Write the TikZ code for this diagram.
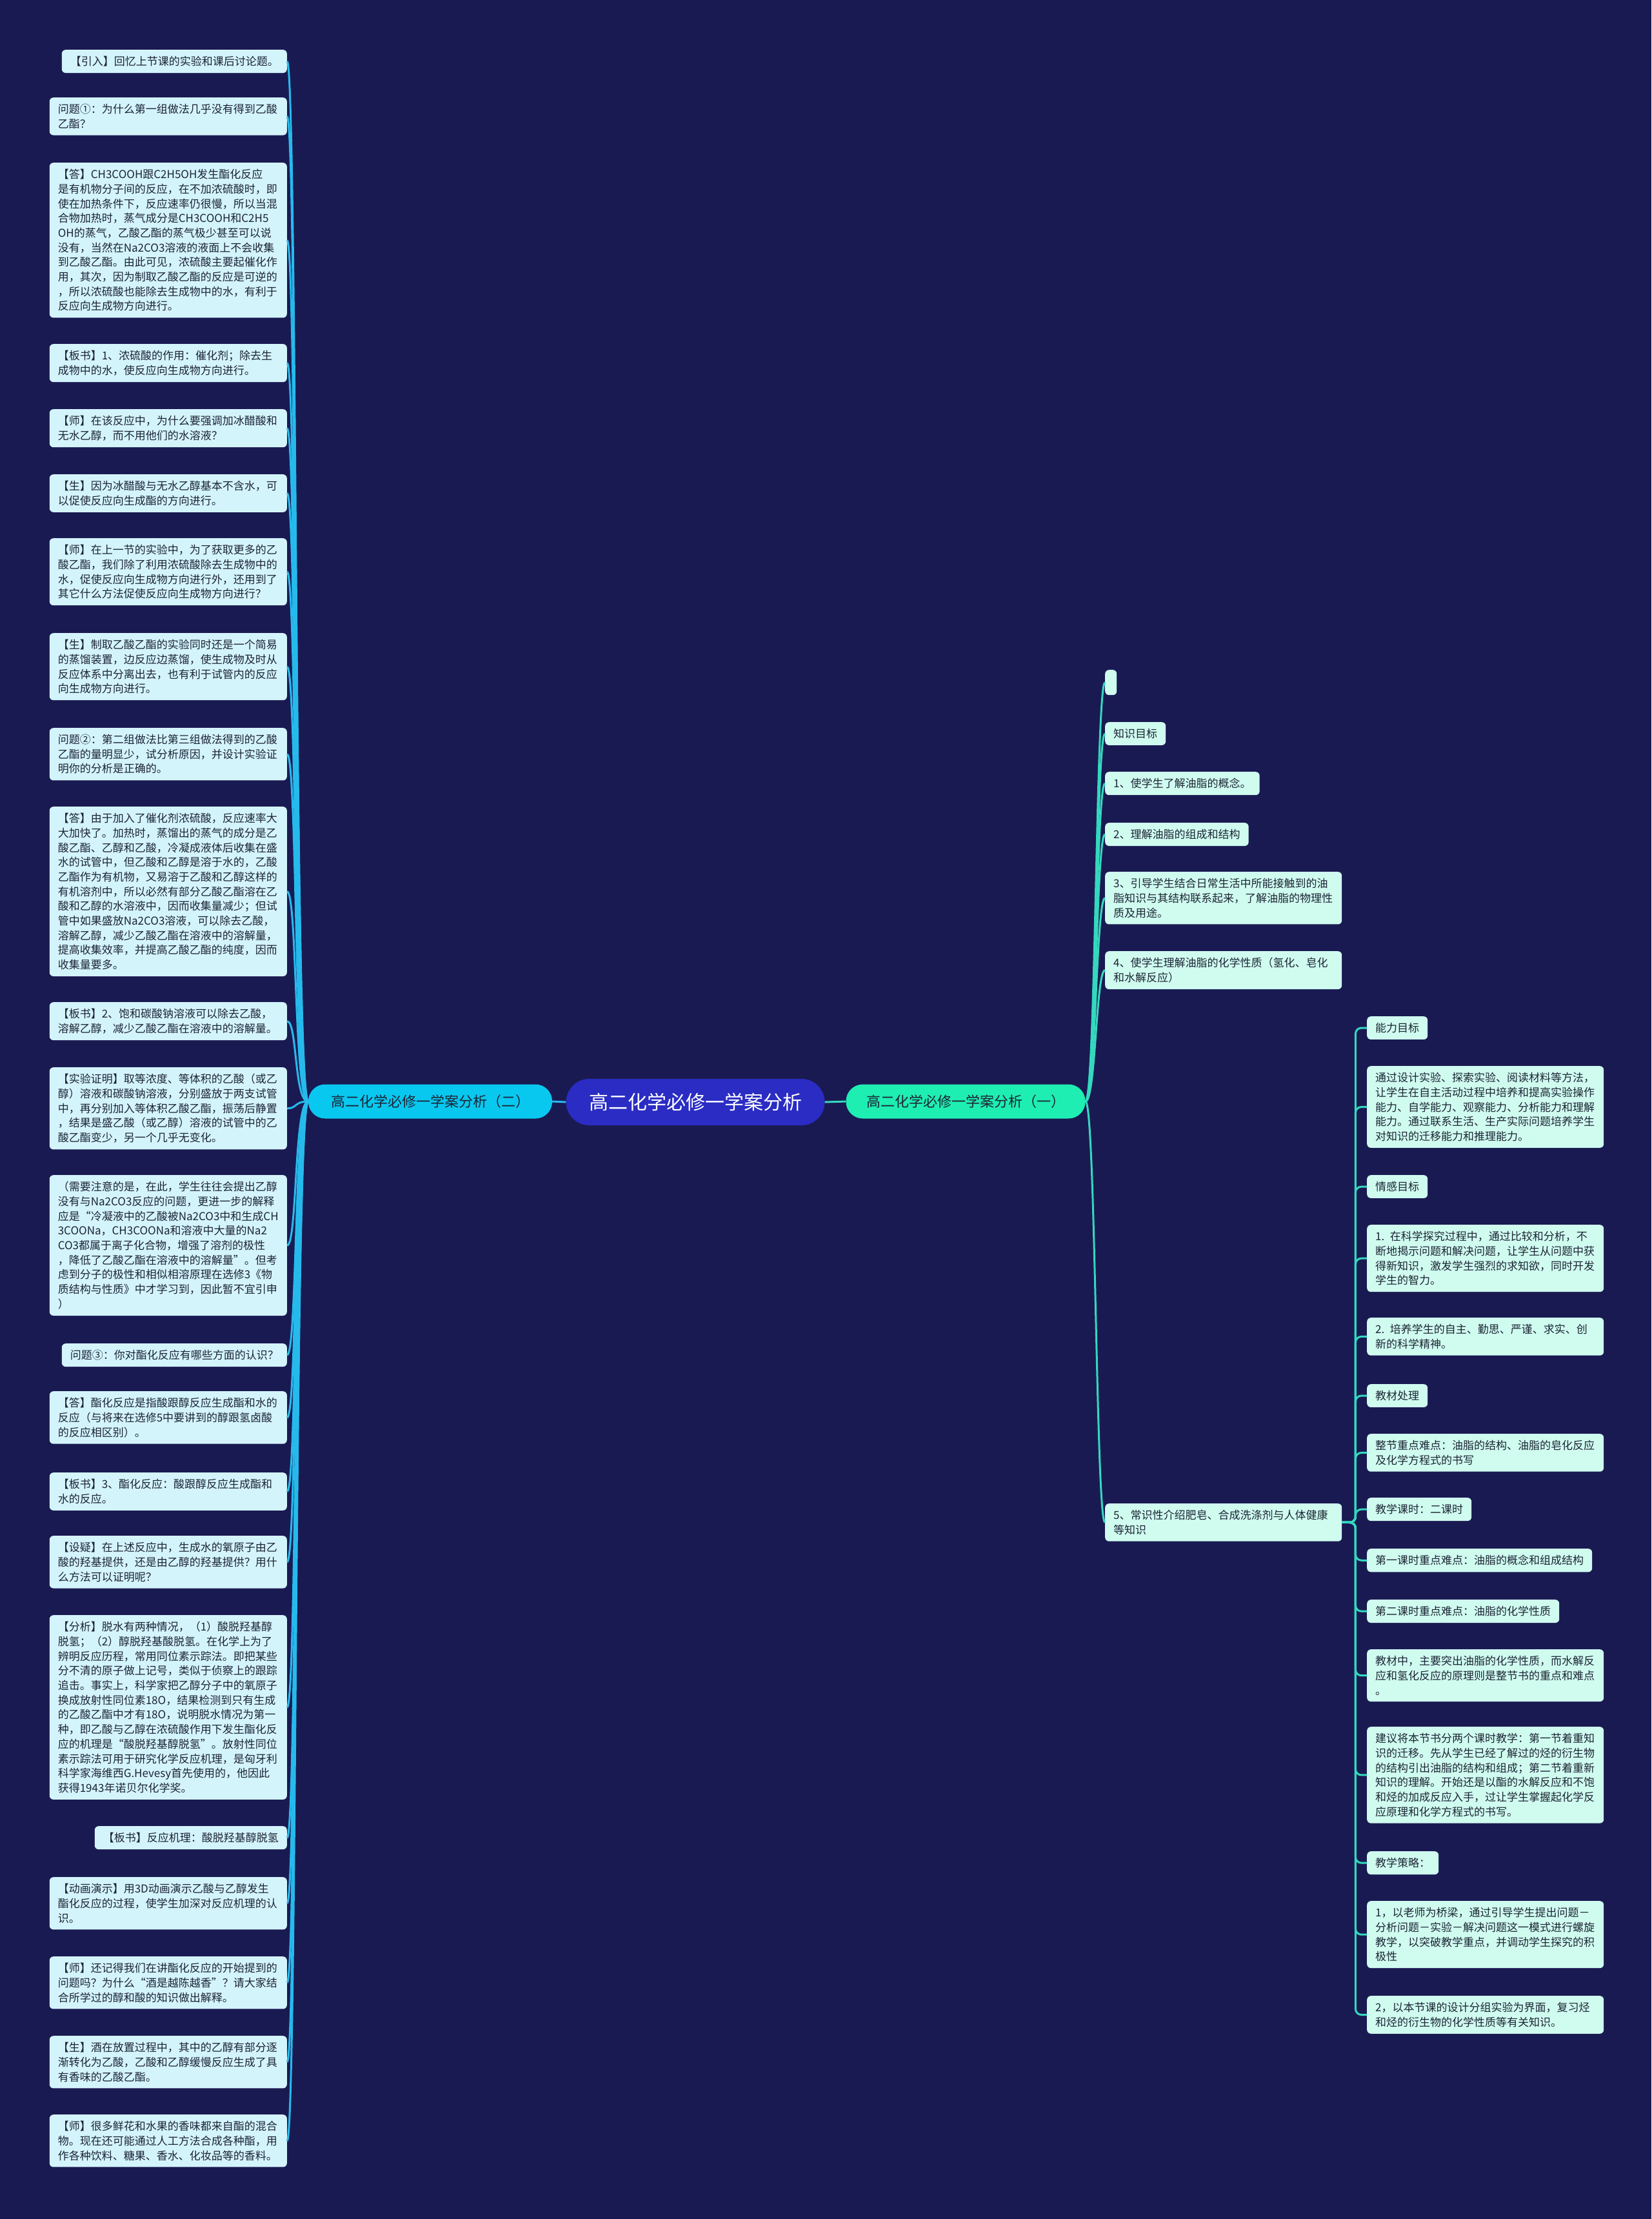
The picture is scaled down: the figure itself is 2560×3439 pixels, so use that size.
\documentclass[tikz,border=0pt]{standalone}
\usepackage{fontspec}
\setmainfont{Noto Sans CJK SC}
\usetikzlibrary{calc}
\definecolor{bg}{RGB}{26,26,82}
\definecolor{cnfill}{RGB}{42,44,196}
\definecolor{lbfill}{RGB}{8,200,240}
\definecolor{rbfill}{RGB}{30,238,178}
\definecolor{lleaf}{RGB}{212,244,252}
\definecolor{rleaf}{RGB}{208,252,240}
\definecolor{llinec}{RGB}{38,186,236}
\definecolor{rlinec}{RGB}{52,216,190}
\definecolor{txt}{RGB}{28,36,52}
\begin{document}
\begin{tikzpicture}[x=1pt,y=-1pt,
  leafbase/.style={text=txt, rounded corners=6pt, inner xsep=13pt, inner ysep=10pt,
    font=\fontsize{17}{22.7}\selectfont, align=left},
  lleafs/.style={leafbase, fill=lleaf, anchor=north east},
  lwide/.style={lleafs, text width=342pt},
  rleafs/.style={leafbase, fill=rleaf, anchor=north west},
  rwide/.style={rleafs, text width=341pt},
  lconn/.style={draw=llinec, line width=3pt},
  rconn/.style={draw=rlinec, line width=3pt},
  branch/.style={rounded corners=26pt, minimum height=53pt, text=txt,
    font=\fontsize{22}{26}\selectfont, inner sep=0pt}
]
\useasboundingbox (0,0) rectangle (2560,3439);
\fill[bg] (0,0) rectangle (2560,3439);

% centre and branches
\node[fill=cnfill, rounded corners=36pt, minimum width=401pt, minimum height=72pt,
  text=white, font=\fontsize{30}{34}\selectfont, inner sep=0pt] (cn) at (1078,1708) {高二化学必修一学案分析};
\node[branch, fill=lbfill, minimum width=378pt] (lb) at (667,1707) {高二化学必修一学案分析（二）};
\node[branch, fill=rbfill, minimum width=371pt] (rb) at (1497,1707) {高二化学必修一学案分析（一）};

% left leaves
\node[lleafs] (l1) at (445,77) {【引入】回忆上节课的实验和课后讨论题。};
\node[lwide] (l2) at (445,151) {问题①：为什么第一组做法几乎没有得到乙酸\\乙酯？};
\node[lwide] (l3) at (445,252) {【答】CH3COOH跟C2H5OH发生酯化反应\\是有机物分子间的反应，在不加浓硫酸时，即\\使在加热条件下，反应速率仍很慢，所以当混\\合物加热时，蒸气成分是CH3COOH和C2H5\\OH的蒸气，乙酸乙酯的蒸气极少甚至可以说\\没有，当然在Na2CO3溶液的液面上不会收集\\到乙酸乙酯。由此可见，浓硫酸主要起催化作\\用，其次，因为制取乙酸乙酯的反应是可逆的\\，所以浓硫酸也能除去生成物中的水，有利于\\反应向生成物方向进行。};
\node[lwide] (l4) at (445,533) {【板书】1、浓硫酸的作用：催化剂；除去生\\成物中的水，使反应向生成物方向进行。};
\node[lwide] (l5) at (445,634) {【师】在该反应中，为什么要强调加冰醋酸和\\无水乙醇，而不用他们的水溶液？};
\node[lwide] (l6) at (445,735) {【生】因为冰醋酸与无水乙醇基本不含水，可\\以促使反应向生成酯的方向进行。};
\node[lwide] (l7) at (445,834) {【师】在上一节的实验中，为了获取更多的乙\\酸乙酯，我们除了利用浓硫酸除去生成物中的\\水，促使反应向生成物方向进行外，还用到了\\其它什么方法促使反应向生成物方向进行？};
\node[lwide] (l8) at (445,981) {【生】制取乙酸乙酯的实验同时还是一个简易\\的蒸馏装置，边反应边蒸馏，使生成物及时从\\反应体系中分离出去，也有利于试管内的反应\\向生成物方向进行。};
\node[lwide] (l9) at (445,1128) {问题②：第二组做法比第三组做法得到的乙酸\\乙酯的量明显少，试分析原因，并设计实验证\\明你的分析是正确的。};
\node[lwide] (l10) at (445,1250) {【答】由于加入了催化剂浓硫酸，反应速率大\\大加快了。加热时，蒸馏出的蒸气的成分是乙\\酸乙酯、乙醇和乙酸，冷凝成液体后收集在盛\\水的试管中，但乙酸和乙醇是溶于水的，乙酸\\乙酯作为有机物，又易溶于乙酸和乙醇这样的\\有机溶剂中，所以必然有部分乙酸乙酯溶在乙\\酸和乙醇的水溶液中，因而收集量减少；但试\\管中如果盛放Na2CO3溶液，可以除去乙酸，\\溶解乙醇，减少乙酸乙酯在溶液中的溶解量，\\提高收集效率，并提高乙酸乙酯的纯度，因而\\收集量要多。};
\node[lwide] (l11) at (445,1553) {【板书】2、饱和碳酸钠溶液可以除去乙酸，\\溶解乙醇，减少乙酸乙酯在溶液中的溶解量。};
\node[lwide] (l12) at (445,1654) {【实验证明】取等浓度、等体积的乙酸（或乙\\醇）溶液和碳酸钠溶液，分别盛放于两支试管\\中，再分别加入等体积乙酸乙酯，振荡后静置\\，结果是盛乙酸（或乙醇）溶液的试管中的乙\\酸乙酯变少，另一个几乎无变化。};
\node[lwide] (l13) at (445,1821) {（需要注意的是，在此，学生往往会提出乙醇\\没有与Na2CO3反应的问题，更进一步的解释\\应是“冷凝液中的乙酸被Na2CO3中和生成CH\\3COONa，CH3COONa和溶液中大量的Na2\\CO3都属于离子化合物，增强了溶剂的极性\\，降低了乙酸乙酯在溶液中的溶解量”。但考\\虑到分子的极性和相似相溶原理在选修3《物\\质结构与性质》中才学习到，因此暂不宜引申\\）};
\node[lleafs] (l14) at (445,2082) {问题③：你对酯化反应有哪些方面的认识？};
\node[lwide] (l15) at (445,2156) {【答】酯化反应是指酸跟醇反应生成酯和水的\\反应（与将来在选修5中要讲到的醇跟氢卤酸\\的反应相区别）。};
\node[lwide] (l16) at (445,2282) {【板书】3、酯化反应：酸跟醇反应生成酯和\\水的反应。};
\node[lwide] (l17) at (445,2380) {【设疑】在上述反应中，生成水的氧原子由乙\\酸的羟基提供，还是由乙醇的羟基提供？用什\\么方法可以证明呢？};
\node[lwide] (l18) at (445,2503) {【分析】脱水有两种情况，（1）酸脱羟基醇\\脱氢；（2）醇脱羟基酸脱氢。在化学上为了\\辨明反应历程，常用同位素示踪法。即把某些\\分不清的原子做上记号，类似于侦察上的跟踪\\追击。事实上，科学家把乙醇分子中的氧原子\\换成放射性同位素18O，结果检测到只有生成\\的乙酸乙酯中才有18O，说明脱水情况为第一\\种，即乙酸与乙醇在浓硫酸作用下发生酯化反\\应的机理是“酸脱羟基醇脱氢”。放射性同位\\素示踪法可用于研究化学反应机理，是匈牙利\\科学家海维西G.Hevesy首先使用的，他因此\\获得1943年诺贝尔化学奖。};
\node[lleafs] (l19) at (445,2830) {【板书】反应机理：酸脱羟基醇脱氢};
\node[lwide] (l20) at (445,2909) {【动画演示】用3D动画演示乙酸与乙醇发生\\酯化反应的过程，使学生加深对反应机理的认\\识。};
\node[lwide] (l21) at (445,3032) {【师】还记得我们在讲酯化反应的开始提到的\\问题吗？为什么“酒是越陈越香”？请大家结\\合所学过的醇和酸的知识做出解释。};
\node[lwide] (l22) at (445,3155) {【生】酒在放置过程中，其中的乙醇有部分逐\\渐转化为乙酸，乙酸和乙醇缓慢反应生成了具\\有香味的乙酸乙酯。};
\node[lwide] (l23) at (445,3277) {【师】很多鲜花和水果的香味都来自酯的混合\\物。现在还可能通过人工方法合成各种酯，用\\作各种饮料、糖果、香水、化妆品等的香料。};

% right first level
\node[rleafs, minimum width=18pt, minimum height=39pt, inner sep=0pt] (r0) at (1713,1038) {};
\node[rleafs] (r1) at (1713,1119) {知识目标};
\node[rleafs] (r2) at (1713,1196) {1、使学生了解油脂的概念。};
\node[rleafs] (r3) at (1713,1275) {2、理解油脂的组成和结构};
\node[rwide] (r4) at (1713,1351) {3、引导学生结合日常生活中所能接触到的油\\脂知识与其结构联系起来，了解油脂的物理性\\质及用途。};
\node[rwide] (r5) at (1713,1474) {4、使学生理解油脂的化学性质（氢化、皂化\\和水解反应）};
\node[rwide] (r6) at (1713,2330) {5、常识性介绍肥皂、合成洗涤剂与人体健康\\等知识};

% right second level
\node[rleafs] (s1) at (2119,1575) {能力目标};
\node[rwide] (s2) at (2119,1652) {通过设计实验、探索实验、阅读材料等方法，\\让学生在自主活动过程中培养和提高实验操作\\能力、自学能力、观察能力、分析能力和理解\\能力。通过联系生活、生产实际问题培养学生\\对知识的迁移能力和推理能力。};
\node[rleafs] (s3) at (2119,1821) {情感目标};
\node[rwide] (s4) at (2119,1898) {1. 在科学探究过程中，通过比较和分析，不\\断地揭示问题和解决问题，让学生从问题中获\\得新知识，激发学生强烈的求知欲，同时开发\\学生的智力。};
\node[rwide] (s5) at (2119,2042) {2. 培养学生的自主、勤思、严谨、求实、创\\新的科学精神。};
\node[rleafs] (s6) at (2119,2145) {教材处理};
\node[rwide] (s7) at (2119,2222) {整节重点难点：油脂的结构、油脂的皂化反应\\及化学方程式的书写};
\node[rleafs] (s8) at (2119,2321) {教学课时：二课时};
\node[rleafs] (s9) at (2119,2400) {第一课时重点难点：油脂的概念和组成结构};
\node[rleafs] (s10) at (2119,2479) {第二课时重点难点：油脂的化学性质};
\node[rwide] (s11) at (2119,2556) {教材中，主要突出油脂的化学性质，而水解反\\应和氢化反应的原理则是整节书的重点和难点\\。};
\node[rwide] (s12) at (2119,2676) {建议将本节书分两个课时教学：第一节着重知\\识的迁移。先从学生已经了解过的烃的衍生物\\的结构引出油脂的结构和组成；第二节着重新\\知识的理解。开始还是以酯的水解反应和不饱\\和烃的加成反应入手，过让学生掌握起化学反\\应原理和化学方程式的书写。};
\node[rleafs] (s13) at (2119,2869) {教学策略：};
\node[rwide] (s14) at (2119,2946) {1，以老师为桥梁，通过引导学生提出问题－\\分析问题－实验－解决问题这一模式进行螺旋\\教学，以突破教学重点，并调动学生探究的积\\极性};
\node[rwide] (s15) at (2119,3093) {2，以本节课的设计分组实验为界面，复习烃\\和烃的衍生物的化学性质等有关知识。};

% connectors
\draw[lconn] (cn.west) -- (lb.east);
\draw[rconn] (cn.east) -- (rb.west);
\foreach \c in {l1,l2,l3,l4,l5,l6,l7,l8,l9,l10,l11,l12,l13,l14,l15,l16,l17,l18,l19,l20,l21,l22,l23}
  \draw[lconn] (lb.west) .. controls +(-22,0) and +(16,0) .. (\c.east);
\foreach \c in {r0,r1,r2,r3,r4,r5,r6}
  \draw[rconn] (rb.east) .. controls +(16,0) and +(-14,0) .. (\c.west);
\foreach \c in {s1,s2,s3,s4,s5,s6,s7,s8,s9,s10,s11,s12,s13,s14,s15}
  \draw[rconn, rounded corners=9pt] (r6.east) -- ++(21,0) |- (\c.west);
\end{tikzpicture}
\end{document}
